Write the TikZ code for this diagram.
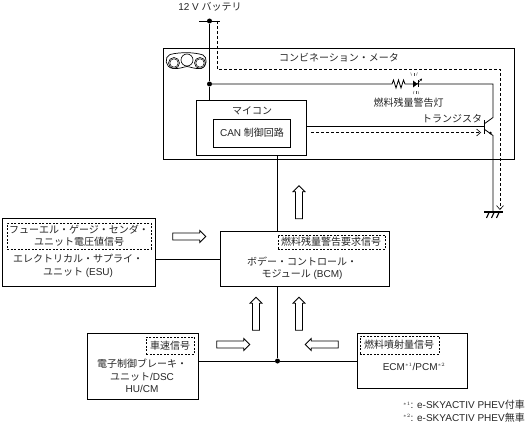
\documentclass[tikz,border=0pt]{standalone}
\usepackage{fontspec}
\setmainfont{Liberation Sans}
\newfontfamily\jp{Noto Sans CJK JP}[Scale=1]
\usetikzlibrary{shapes.arrows,arrows.meta,calc}
\newcommand{\J}[1]{{\jp #1}}
\tikzset{
 box/.style={draw,line width=1pt,fill=white,anchor=north west,inner sep=0pt},
 dbox/.style={draw,line width=.6pt,dash pattern=on 2pt off 1.5pt,anchor=north west,inner sep=0pt,fill=white},
 txt/.style={inner sep=0pt,font=\fontsize{10}{12.5}\selectfont,align=center,text=black!85},
 wire/.style={line width=.8pt},
 dwire/.style={line width=.55pt,dash pattern=on 3pt off 2pt},
 tipw/.style={-{Straight Barb[length=4pt,width=7pt,line width=.6pt]}},
 dot/.style={circle,fill=black,inner sep=0pt,minimum size=5pt},
 blockarrow/.style={single arrow,draw,line width=.8pt,fill=white,minimum height=33pt,minimum width=12pt,single arrow head extend=2.5pt,single arrow head indent=0pt,inner sep=3pt,shape border rotate=#1},
 pt/.style={coordinate}
}
\begin{document}
\begin{tikzpicture}[x=1pt,y=-1pt]
\useasboundingbox (0,0) rectangle (526,425);
% boxes
\node[box,minimum width=350.5pt,minimum height=110pt] (meter) at (163,48.5) {};
\node[txt] (metert) at (339,57.5) {\J{コンビネーション・メータ}};
\node[box,minimum width=110.5pt,minimum height=55pt] (mcu) at (195.5,100) {};
\node[txt] (mcut) at (252,111) {\J{マイコン}};
\node[box,minimum width=77pt,minimum height=28pt] (can) at (213,119) {};
\node[txt] (cant) at (252,133) {CAN \J{制御回路}};
\node[box,minimum width=153.5pt,minimum height=68pt] (esu) at (1.5,218) {};
\node[box,minimum width=169.5pt,minimum height=55pt] (bcm) at (219.5,231) {};
\node[box,minimum width=110.5pt,minimum height=66pt] (brake) at (87,333) {};
\node[box,minimum width=110pt,minimum height=55pt] (ecm) at (357,333) {};
% dashed signal boxes
\node[dbox,minimum width=144pt,minimum height=25.5pt] (esud) at (7,223) {};
\node[dbox,minimum width=107.5pt,minimum height=14.5pt] (bcmd) at (277.5,234.5) {};
\node[dbox,minimum width=48pt,minimum height=17.5pt] (brd) at (146,336.5) {};
\node[dbox,minimum width=79.5pt,minimum height=18pt] (ecd) at (359.5,336) {};
% texts
\node[txt] (batt) at (210,7) {12 V \J{バッテリ}};
\node[txt] (lampt) at (408.5,102.5) {\J{燃料残量警告灯}};
\node[txt] (trt) at (452,119) {\J{トランジスタ}};
\node[txt] (esut1) at (79,230) {\J{フューエル・ゲージ・センダ・}};
\node[txt] (esut2) at (79,242) {\J{ユニット電圧値信号}};
\node[txt] (esut3) at (78,259) {\J{エレクトリカル・サプライ・}};
\node[txt] (esut4) at (78,273) {\J{ユニット} (ESU)};
\node[txt] (bcmt0) at (331,242) {\J{燃料残量警告要求信号}};
\node[txt] (bcmt1) at (302,262) {\J{ボデー・コントロール・}};
\node[txt] (bcmt2) at (302,274.5) {\J{モジュール} (BCM)};
\node[txt] (brt0) at (170,345.5) {\J{車速信号}};
\node[txt] (brt1) at (142,364) {\J{電子制御ブレーキ・}};
\node[txt] (brt2) at (142,377) {\J{ユニット}/DSC};
\node[txt] (brt3) at (142,389) {HU/CM};
\node[txt] (ect0) at (399,345) {\J{燃料噴射量信号}};
\node[txt] (ect1) at (414,366.5) {ECM$^{\scriptscriptstyle *1}$/PCM$^{\scriptscriptstyle *2}$};
\node[txt,anchor=east] (fn1) at (525,405) {$^{\scriptscriptstyle *1}$: e-SKYACTIV PHEV\J{付車}};
\node[txt,anchor=east] (fn2) at (525,417.5) {$^{\scriptscriptstyle *2}$: e-SKYACTIV PHEV\J{無車}};
% gauge icon
\draw[line width=.7pt] (170,54.5) .. controls (180,52) and (194,52) .. (203,55) .. controls (207.5,57) and (207.5,67) .. (201,68.5) .. controls (194,69) and (191,67) .. (187,66.5) .. controls (183,67) and (180,69) .. (173,68.5) .. controls (165,67.5) and (164,57) .. (170,54.5) -- cycle;
\foreach \c/\r in {174/4.2,200/4.2}{\draw[line width=.6pt,fill=white] (\c,63) circle[radius=\r pt+1.3pt];\draw[line width=.5pt] (\c,63) circle[radius=\r pt];}
\draw[line width=.6pt,fill=white] (187,60) circle[radius=6pt];
% power
\node[pt] (bl) at (199,21) {}; \node[pt] (br) at (220,21) {};
\node[dot] (d1) at (209.5,21) {};
\node[dot] (d2) at (209.5,84) {};
\node[dot] (d3) at (277.5,361) {};
\draw[wire] (bl)--(br);
\draw[wire] (d1)--(d2)--(d2|-mcu.north);
% resistor, lamp line
\node[pt] (r1) at (392,84) {}; \node[pt] (r2) at (407,84) {};
\node[pt] (l2) at (418,84) {};
\node[pt] (tc) at (493,84) {};
\node[pt] (tb) at (484,126.5) {};
\node[pt] (tcol) at (493,117.5) {};
\node[pt] (temi) at (493,135.5) {};
\node[pt] (gnd) at (493,212) {};
\draw[wire] (d2)--(r1) -- ++(1.5,-4) -- ++(2.5,8) -- ++(2.5,-8) -- ++(2.5,8) -- ++(2.5,-8) -- ++(1.5,4) -- (r2) -- (l2) -- (tc) -- (tcol) -- (484,124);
\fill (413,80.5) -- (413,87.5) -- (417.5,84) -- cycle;
\draw[line width=.9pt] (418,80.5)--(418,87.5);
\draw[line width=.5pt,-{Stealth[length=2.5pt,width=2.5pt]}] (417,84)--(422,78.5);
\foreach \x/\y/\dx/\dy in {414/76/0/-3,416.5/75.5/.8/-3,411.5/75.5/-.8/-3,416/91/0/3,418/91/.8/3,414/91/-.8/3}{\draw[line width=.4pt,black!70] (\x,\y)--++(\dx,\dy);}
% transistor
\draw[line width=1pt] (484,120)--(484,134);
\draw[wire] (mcu.east|-tb)--(tb);
\draw[wire] (484,129)--(temi)--(gnd);
\fill (490.5,133) circle[radius=1.3pt];
\draw[dwire,tipw] (311,132.5)--(481,132.5);
% ground
\draw[line width=1.2pt] (484,212)--(503,212);
\foreach \x in {489,494,499}{\draw[line width=1.1pt] (\x,212.5)--(\x-2.5,218);}
% dashed 12V
\node[pt] (ds) at (217,21) {}; \node[pt] (dc1) at (217,69) {}; \node[pt] (dc2) at (500,69) {}; \node[pt] (de) at (500,210) {};
\draw[dwire,tipw] (ds)--(dc1)--(dc2)--(de);
% main bus
\draw[wire] (277.5,155)--(277.5,231);
\draw[wire] (277.5,286)--(d3);
\draw[wire] (esu.east|-0,259.5)--(bcm.west|-0,259.5);
\draw[wire] (brake.east|-d3)--(d3)--(ecm.west|-d3);
% block arrows
\node[blockarrow=90] (a1) at (299,204) {};
\node[blockarrow=90] (a2) at (256,315.5) {};
\node[blockarrow=90] (a3) at (299,315.5) {};
\node[blockarrow=0] (a4) at (187.5,236.5) {};
\node[blockarrow=0] (a5) at (231.5,344.5) {};
\node[blockarrow=180] (a6) at (323.5,344.5) {};
\end{tikzpicture}
\end{document}
